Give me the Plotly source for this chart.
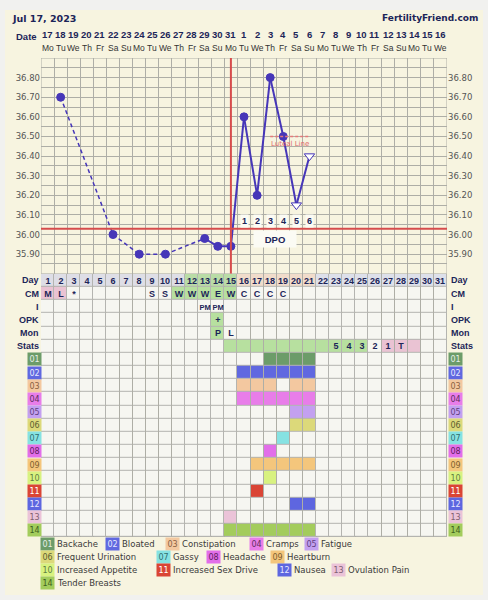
import plotly.graph_objects as go

# ---------------- data ----------------
chart_date = "Jul 17, 2023"
site_name = "FertilityFriend.com"
date_labels = [str(d) for d in list(range(17, 32)) + list(range(1, 17))]
weekday_labels = ["Mo", "Tu", "We", "Th", "Fr", "Sa", "Su"] * 4 + ["Mo", "Tu", "We"]
cycle_days = list(range(1, 32))

temp_days = [2, 6, 8, 10, 13, 14, 15, 16, 17, 18, 19, 20, 21]
temps = [36.70, 36.00, 35.90, 35.90, 35.98, 35.94, 35.94, 36.60, 36.20, 36.80, 36.50, 36.15, 36.40]
temp_symbols = ["circle"] * 11 + ["triangle-down"] * 2
temp_tick_values = [35.90, 36.00, 36.10, 36.20, 36.30, 36.40, 36.50, 36.60, 36.70, 36.80]

ovulation_day = 15
coverline_temp = 36.03
luteal_line_temp = 36.50
luteal_line_days = [18, 21]

day_phase = ["pre"] * 11 + ["fertile"] * 4 + ["post"] * 6 + ["future"] * 10
cm_codes = ["M", "L", "*", "", "", "", "", "", "S", "S", "W", "W", "W", "E", "W", "C", "C", "C", "C"] + [""] * 12
intercourse = {13: "PM", 14: "PM"}
opk = {14: "+"}
monitor = {14: "P", 15: "L"}
stats_labels = {23: "5", 24: "4", 25: "3", 26: "2", 27: "1", 28: "T"}
stats_green_days = [15, 16, 17, 18, 19, 20, 21, 22, 23, 24, 25]
stats_pink_days = [27, 28, 29]

row_labels = ["Day", "CM", "I", "OPK", "Mon", "Stats"]
symptom_names = ["Backache", "Bloated", "Constipation", "Cramps", "Fatigue",
                 "Frequent Urination", "Gassy", "Headache", "Heartburn",
                 "Increased Appetite", "Increased Sex Drive", "Nausea",
                 "Ovulation Pain", "Tender Breasts"]
symptom_days = [[18, 19, 20, 21], [16, 17, 18, 19, 20, 21], [16, 17, 18, 20, 21],
                [16, 17, 18, 19, 20, 21], [20, 21], [20, 21], [19], [18],
                [17, 18, 19, 20, 21], [18], [17], [20, 21], [15],
                [15, 16, 17, 18, 19, 20, 21]]

# ---------------- styles ----------------
W, H = 488, 600
L, R, T, B = 41, 41, 58, 63
PW, PH = W - L - R, H - T - B
TABLE_FRAC = 263.2 / PH

NAVY = "#1c2558"
CREAM = "#f7f4e0"
GRID = "#aeaea6"
LINE = "#4636b8"
RED = "#d64c4c"

symptom_colors = ["#6c9c69", "#6068e0", "#f3c8a0", "#e87de9", "#c3a0f0", "#dcd97a", "#86e2e2",
                  "#e26ee9", "#f4c67c", "#d8f280", "#da4535", "#5e66e0", "#ebc3d8", "#a3cc5c"]
symptom_text_colors = ["#e6eee6", "#e8e8ff", "#8a6040", "#603060", "#604080", "#606030", "#307070",
                       "#602060", "#806030", "#608040", "#ffffff", "#e8e8ff", "#806070", "#406020"]
legend_pos = [(41, 0), (106, 0), (166, 0), (250, 0), (305, 0), (41, 1), (157, 1), (207, 1),
              (271, 1), (41, 2), (157, 2), (278, 2), (332, 2), (41, 3)]
legend_rows_py = [544, 557, 570, 583]

palette = ["#f6f6f1", "#dedee6", "#b9dca6", "#f1dccb", "#dde0ea", "#eac3d3", "#b7e09f"] + symptom_colors
phase_idx = {"pre": 1, "fertile": 2, "post": 3, "future": 4}


def X(px):
    return (px - L) / PW


def Y(py):
    return (H - B - py) / PH


# ---------------- table matrix ----------------
n_rows = len(row_labels) + len(symptom_names)
z = [[0] * 31 for _ in range(n_rows)]
txt = [[""] * 31 for _ in range(n_rows)]
for j, d in enumerate(cycle_days):
    z[0][j] = phase_idx[day_phase[j]]
    txt[0][j] = str(d)
    c = cm_codes[j]
    txt[1][j] = c
    if c in ("M", "L"):
        z[1][j] = 5
    elif c in ("W", "E"):
        z[1][j] = 6
    if d in intercourse:
        txt[2][j] = f'<span style="font-size:7.5px">{intercourse[d]}</span>'
    if d in opk:
        txt[3][j] = opk[d]
        z[3][j] = 6
    if d in monitor:
        txt[4][j] = monitor[d]
        if monitor[d] == "P":
            z[4][j] = 6
    txt[5][j] = stats_labels.get(d, "")
    if d in stats_green_days:
        z[5][j] = 6
    elif d in stats_pink_days:
        z[5][j] = 5
for k, days in enumerate(symptom_days):
    for d in days:
        z[6 + k][d - 1] = 7 + k

n_col = len(palette)
colorscale = []
for i, c in enumerate(palette):
    colorscale.append([i / n_col, c])
    colorscale.append([(i + 1) / n_col, c])
zc = [[v + 0.5 for v in row] for row in z]

fig = go.Figure()

fig.add_trace(go.Heatmap(
    x=cycle_days, y=list(range(n_rows)), z=zc, text=txt, texttemplate="%{text}",
    textfont=dict(family="Liberation Sans", size=9, color=NAVY, weight="bold"),
    colorscale=colorscale, zmin=0, zmax=n_col, showscale=False, xgap=1, ygap=1,
    hoverinfo="skip", xaxis="x", yaxis="y2"))

# temperature line segments
dx, dy, sx, sy = [], [], [], []
for i in range(len(temp_days) - 1):
    a, b = temp_days[i], temp_days[i + 1]
    if b - a > 1:
        dx += [a, b, None]
        dy += [temps[i], temps[i + 1], None]
    else:
        sx += [a, b, None]
        sy += [temps[i], temps[i + 1], None]
fig.add_trace(go.Scatter(x=dx, y=dy, mode="lines", line=dict(color=LINE, width=1.5, dash="4px,3px"),
                         hoverinfo="skip", yaxis="y"))
fig.add_trace(go.Scatter(x=sx, y=sy, mode="lines", line=dict(color=LINE, width=2),
                         hoverinfo="skip", yaxis="y"))
fig.add_trace(go.Scatter(
    x=temp_days, y=temps, mode="markers", yaxis="y",
    marker=dict(symbol=temp_symbols, opacity=1,
                size=[8 if s == "circle" else 9 for s in temp_symbols],
                color=[LINE if s == "circle" else "#ffffff" for s in temp_symbols],
                line=dict(color=LINE, width=1)),
    hoverinfo="skip"))
fig.add_trace(go.Scatter(x=[1], y=[36.0], mode="markers", marker=dict(opacity=0), yaxis="y3",
                         hoverinfo="skip"))

grid_vals = [round(35.80 + 0.05 * i, 2) for i in range(23)]
grid_text = [f"{v:.2f}" if any(abs(v - t) < 1e-6 for t in temp_tick_values) else "" for v in grid_vals]

yax = dict(range=[35.80, 36.90], tickmode="array", tickvals=grid_vals, ticktext=grid_text,
           ticks="", zeroline=False, tickfont=dict(family="DejaVu Sans", size=8.5, color="#555555"),
           domain=[TABLE_FRAC, 1], anchor="x")

shapes = [
    dict(type="rect", xref="paper", yref="paper", x0=X(5), x1=X(483), y0=Y(595), y1=Y(10),
         fillcolor=CREAM, line=dict(width=0), layer="below"),
    dict(type="rect", xref="x", yref="y2", x0=0.5, x1=31.5, y0=-0.5, y1=n_rows - 0.5,
         fillcolor="#b4b4b0", line=dict(width=0), layer="below"),
    dict(type="rect", xref="x", yref="y", x0=0.5, x1=31.5, y0=35.80, y1=36.90,
         line=dict(color=GRID, width=1)),
    dict(type="line", xref="x", yref="y", x0=ovulation_day, x1=ovulation_day, y0=35.80, y1=36.90,
         line=dict(color=RED, width=2)),
    dict(type="line", xref="paper", yref="y", x0=0, x1=1, y0=coverline_temp, y1=coverline_temp,
         line=dict(color=RED, width=2)),
    dict(type="line", xref="x", yref="y", x0=luteal_line_days[0], x1=luteal_line_days[1],
         y0=luteal_line_temp, y1=luteal_line_temp, line=dict(color="#e47a7a", width=1.5, dash="3px,2px")),
]


def A(**kw):
    kw.setdefault("showarrow", False)
    kw.setdefault("xanchor", "center")
    kw.setdefault("yanchor", "middle")
    return kw


ann = []
ann.append(A(text=f"<b>{chart_date}</b>", xref="paper", yref="paper", x=X(10), y=Y(18),
             xanchor="left", font=dict(family="DejaVu Sans", size=9.5, color=NAVY)))
ann.append(A(text=f"<b>{site_name}</b>", xref="paper", yref="paper", x=X(480), y=Y(18),
             xanchor="right", font=dict(family="DejaVu Sans", size=9, color=NAVY)))
ann.append(A(text="<b>Date</b>", xref="paper", yref="paper", x=X(39), y=Y(37),
             xanchor="right", font=dict(family="Liberation Sans", size=9.5, color=NAVY)))
for j, d in enumerate(cycle_days):
    ann.append(A(text=f"<b>{date_labels[j]}</b>", xref="x", yref="paper", x=d, y=Y(34.5),
                 font=dict(family="Liberation Sans", size=9.5, color=NAVY)))
    ann.append(A(text=weekday_labels[j], xref="x", yref="paper", x=d, y=Y(48.5),
                 font=dict(family="Liberation Sans", size=8.5, color="#333333")))

# DPO labels
for d in temp_days:
    if d > ovulation_day:
        ann.append(A(text=f"<b>{d - ovulation_day}</b>", xref="x", yref="y", x=d, y=36.068,
                     bgcolor="#fbfbf4", font=dict(family="Liberation Sans", size=9, color=NAVY)))
ann.append(A(text="<b>DPO</b>", xref="x", yref="y", x=18.4, y=35.976,
             bgcolor="#fbfbf4", width=40, height=14,
             font=dict(family="Liberation Sans", size=9.5, color=NAVY)))
ann.append(A(text="Luteal Line", xref="x", yref="y", x=sum(luteal_line_days) / 2, y=36.462,
             font=dict(family="DejaVu Sans", size=7, color="#e06a6a")))

# row labels
for i, lab in enumerate(row_labels):
    ann.append(A(text=f"<b>{lab}</b>", xref="paper", yref="y2", x=X(40.5), y=i, xanchor="right",
                 font=dict(family="Liberation Sans", size=9, color=NAVY)))
    ann.append(A(text=f"<b>{lab}</b>", xref="paper", yref="y2", x=X(449.5), y=i, xanchor="left",
                 font=dict(family="Liberation Sans", size=9, color=NAVY)))
for k in range(len(symptom_names)):
    for cx in (34, 455):
        ann.append(A(text=f"{k + 1:02d}", xref="paper", yref="y2", x=X(cx), y=6 + k,
                     bgcolor=symptom_colors[k], width=11, height=10, borderpad=1,
                     font=dict(family="DejaVu Sans", size=8, color=symptom_text_colors[k])))

# legend
for k, name in enumerate(symptom_names):
    lx, row = legend_pos[k]
    py = legend_rows_py[row]
    ann.append(A(text=f"{k + 1:02d}", xref="paper", yref="paper", x=X(lx + 6.5), y=Y(py),
                 bgcolor=symptom_colors[k], width=11, height=10, borderpad=1,
                 font=dict(family="DejaVu Sans", size=8, color=symptom_text_colors[k])))
    ann.append(A(text=name, xref="paper", yref="paper", x=X(lx + 14), y=Y(py),
                 xanchor="left", font=dict(family="DejaVu Sans", size=8.5, color="#3a3a3a")))

fig.update_layout(
    width=W, height=H, margin=dict(l=L, r=R, t=T, b=B, autoexpand=False),
    paper_bgcolor="#f1f1ef", plot_bgcolor=CREAM, showlegend=False,
    xaxis=dict(range=[0.5, 31.5], tickmode="array", tickvals=[c + 0.5 for c in [0] + cycle_days],
               showticklabels=False, ticks="", showgrid=True, gridcolor=GRID, gridwidth=1,
               zeroline=False, anchor="y2", domain=[0, 1]),
    yaxis=dict(side="left", showgrid=True, gridcolor=GRID, gridwidth=1, **yax),
    yaxis3=dict(side="right", overlaying="y", showgrid=False, **{k: v for k, v in yax.items() if k != "domain"}),
    yaxis2=dict(range=[n_rows - 0.5, -0.5], domain=[0, TABLE_FRAC], showticklabels=False,
                showgrid=False, zeroline=False, ticks="", anchor="x"),
    shapes=shapes, annotations=ann,
)

fig.write_html("out.html", config={"displayModeBar": False},
               post_script="document.body.style.margin='0px';")
